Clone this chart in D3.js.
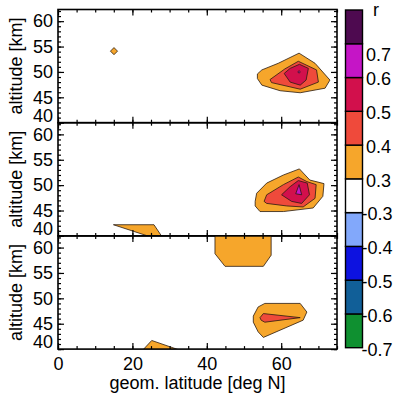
<!DOCTYPE html>
<html>
<head>
<meta charset="utf-8">
<script src="https://cdn.jsdelivr.net/npm/d3@7.9.0/dist/d3.min.js"></script>
<style>
  body { margin: 0; background: #fff; }
  svg { display: block; font-family: "Liberation Sans", Arial, sans-serif; }
</style>
</head>
<body>
<svg id="chart" width="400" height="398"></svg>
<script>
// axes
const latTicks = [0, 20, 40, 60];
const altTicks = [40, 45, 50, 55, 60];

// colour bar: boundaries, labels, colours (bottom to top)
const barBounds = [-0.7, -0.6, -0.5, -0.4, -0.3, 0.3, 0.4, 0.5, 0.6, 0.7];
const barLabels = ['-0.7', '-0.6', '-0.5', '-0.4', '-0.3', '0.3', '0.4', '0.5', '0.6', '0.7'];
const barColors = ['#0f9030', '#115f98', '#0d12e0', '#82a8fb', '#ffffff',
                   '#f6a62b', '#ef4a3b', '#d2104c', '#c515c6', '#4e0a50'];

// contour regions, [lat, alt] vertices
const panel1Regions = [
  { r: 0.3, pts: [[14.1, 54.1], [15.05, 54.8], [16.0, 54.1], [15.05, 53.4]] },
  { r: 0.3, pts: [[53.6, 49.6], [54.8, 50.4], [59.2, 51.7], [64.8, 53.7], [69.1, 51.7],
                  [73.1, 48.4], [71.8, 46.8], [65.1, 45.9], [59.7, 46.3], [54.8, 47.4], [53.6, 48.7]] },
  { r: 0.4, pts: [[57.0, 48.5], [61.0, 50.6], [64.6, 52.1], [69.5, 50.4], [70.0, 48.0],
                  [65.1, 46.6], [57.4, 47.9]] },
  { r: 0.5, pts: [[60.8, 49.7], [62.4, 50.7], [64.9, 51.5], [67.3, 50.7], [66.7, 48.4],
                  [65.1, 47.4], [62.4, 48.0]] },
  { r: 0.6, pts: [[64.45, 50.0], [64.8, 50.25], [65.15, 50.0], [64.8, 49.75]] }
];

const panel2Regions = [
  { r: 0.3, pts: [[14.9, 42.2], [25.8, 42.2], [27.9, 39.9], [24.5, 39.9]] },
  { r: 0.3, pts: [[53.0, 46.8], [53.4, 48.4], [56.1, 50.4], [60.6, 52.0], [64.9, 53.2],
                  [67.7, 51.0], [71.5, 50.3], [71.2, 47.8], [68.6, 45.5], [60.6, 44.8],
                  [54.3, 44.8], [53.0, 45.9]] },
  { r: 0.4, pts: [[55.4, 46.8], [56.1, 48.1], [60.6, 50.1], [64.6, 51.6], [66.9, 50.7],
                  [69.4, 50.1], [69.1, 47.4], [65.9, 45.7], [61.5, 45.9], [56.1, 46.4]] },
  { r: 0.5, pts: [[60.1, 48.1], [62.4, 49.7], [64.6, 50.9], [67.0, 50.4], [67.6, 48.1],
                  [65.5, 46.4], [62.8, 46.8]] },
  { r: 0.6, pts: [[64.8, 50.1], [65.5, 48.1], [63.9, 48.3]] }
];

const panel3Regions = [
  { r: 0.3, pts: [[42.2, 62.5], [57.3, 62.5], [57.3, 58.5], [55.2, 56.3], [44.9, 56.3], [42.2, 58.8]] },
  { r: 0.3, pts: [[52.5, 46.5], [53.8, 48.3], [55.6, 49.0], [65.1, 49.0], [66.9, 47.3],
                  [65.9, 45.7], [55.2, 42.3], [53.8, 43.4], [52.5, 45.3]] },
  { r: 0.4, pts: [[54.3, 46.2], [55.2, 47.0], [65.1, 46.2], [55.6, 45.3], [54.6, 45.7]] },
  { r: 0.3, pts: [[22.9, 39.9], [25.2, 41.7], [32.3, 39.9]] }
];

const panels = [panel1Regions, panel2Regions, panel3Regions];

const svg = d3.select('#chart');
const plotLeft = 58, plotRight = 337, plotTop = 9.5, panelH = 113.2;

const x = d3.scaleLinear().domain([0, 75]).range([plotLeft, plotRight]);
const color = d3.scaleThreshold().domain(barBounds.slice(1)).range(barColors);

panels.forEach((regions, i) => {
  const y0 = plotTop + i * panelH;
  const y = d3.scaleLinear().domain([40, 62.3]).range([y0 + panelH, y0]);
  const g = svg.append('g');

  g.append('clipPath').attr('id', `clip${i}`)
    .append('rect').attr('x', plotLeft).attr('y', y0)
    .attr('width', plotRight - plotLeft).attr('height', panelH);

  const line = d3.line().x((d) => x(d[0])).y((d) => y(d[1])).curve(d3.curveLinearClosed);

  g.append('g').attr('clip-path', `url(#clip${i})`)
    .selectAll('path')
    .data(regions)
    .join('path')
    .attr('d', (d) => line(d.pts))
    .attr('fill', (d) => color(d.r))
    .attr('stroke', '#2a1a10')
    .attr('stroke-width', 0.8)
    .attr('stroke-linejoin', 'round');

  // minor + major ticks, inward on all four sides
  const minorAlt = d3.range(40, 63, 1);
  const minorLat = d3.range(0, 76, 5);
  g.append('g').attr('transform', `translate(${plotLeft},0)`)
    .call(d3.axisLeft(y).tickValues(minorAlt).tickSize(-3).tickFormat(''));
  g.append('g').attr('transform', `translate(${plotRight},0)`)
    .call(d3.axisRight(y).tickValues(minorAlt).tickSize(-3).tickFormat(''));
  g.append('g').attr('transform', `translate(${plotRight},0)`)
    .call(d3.axisRight(y).tickValues(altTicks).tickSize(-6).tickFormat(''));
  g.append('g').attr('transform', `translate(0,${y0})`)
    .call(d3.axisTop(x).tickValues(minorLat).tickSize(-3).tickFormat(''));
  g.append('g').attr('transform', `translate(0,${y0 + panelH})`)
    .call(d3.axisBottom(x).tickValues(minorLat).tickSize(-3).tickFormat(''));
  g.append('g').attr('transform', `translate(0,${y0})`)
    .call(d3.axisTop(x).tickValues(latTicks).tickSize(-6).tickFormat(''));

  const yAxis = g.append('g').attr('transform', `translate(${plotLeft},0)`)
    .call(d3.axisLeft(y).tickValues(altTicks).tickSize(-6).tickPadding(5));
  yAxis.selectAll('text').attr('font-size', 18).attr('fill', '#000')
    .filter((d) => d === 40).attr('y', -7);

  const xAxis = g.append('g').attr('transform', `translate(0,${y0 + panelH})`)
    .call(d3.axisBottom(x).tickValues(latTicks).tickSize(-6).tickPadding(8));
  if (i < 2) xAxis.selectAll('text').remove();
  else xAxis.selectAll('text').attr('font-size', 18).attr('fill', '#000');

  g.selectAll('.domain').remove();
  g.selectAll('.tick line').attr('stroke', '#000').attr('stroke-width', 1.2);

  g.append('rect')
    .attr('x', plotLeft).attr('y', y0).attr('width', plotRight - plotLeft).attr('height', panelH)
    .attr('fill', 'none').attr('stroke', '#000').attr('stroke-width', 1.6);

  g.append('text')
    .attr('transform', `translate(22,${y0 + panelH / 2}) rotate(-90)`)
    .attr('text-anchor', 'middle').attr('font-size', 18)
    .text('altitude [km]');
});

svg.append('text')
  .attr('x', (plotLeft + plotRight) / 2).attr('y', 389)
  .attr('text-anchor', 'middle').attr('font-size', 18)
  .text('geom. latitude [deg N]');

// colour bar
const bar = svg.append('g');
const by = d3.scaleLinear().domain([0, barColors.length]).range([347.7, 10]);
bar.selectAll('rect')
  .data(barColors)
  .join('rect')
  .attr('x', 345.5).attr('width', 17)
  .attr('y', (d, i) => by(i + 1)).attr('height', (d, i) => by(i) - by(i + 1))
  .attr('fill', (d) => d)
  .attr('stroke', '#000').attr('stroke-width', 1.4);

bar.selectAll('text.lab')
  .data(barLabels)
  .join('text')
  .attr('class', 'lab')
  .attr('x', (d) => (d.startsWith('-') ? 361.5 : 366))
  .attr('y', (d, i) => (i === barLabels.length - 1 ? by(i) + 10.5 : by(i) + 1.5))
  .attr('dy', '0.35em')
  .attr('font-size', 18)
  .text((d) => d);

bar.append('text')
  .attr('x', 376).attr('y', 16)
  .attr('text-anchor', 'middle').attr('font-size', 18)
  .text('r');
</script>
</body>
</html>
